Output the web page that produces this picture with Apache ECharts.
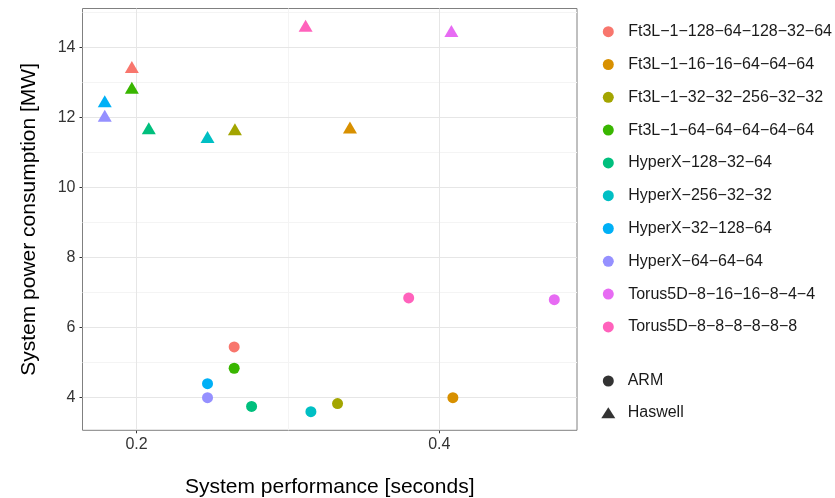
<!DOCTYPE html>
<html>
<head>
<meta charset="utf-8">
<title>System power vs performance</title>
<script src="https://cdn.jsdelivr.net/npm/echarts@6/dist/echarts.min.js"></script>
<style>
  html, body { margin: 0; padding: 0; background: #fff; }
  #chart { width: 835px; height: 498px; }
</style>
</head>
<body>
<div id="chart"></div>
<script>
// Network topologies (one colour each)
const topologies = [
  "Ft3L−1−128−64−128−32−64",
  "Ft3L−1−16−16−64−64−64",
  "Ft3L−1−32−32−256−32−32",
  "Ft3L−1−64−64−64−64−64",
  "HyperX−128−32−64",
  "HyperX−256−32−32",
  "HyperX−32−128−64",
  "HyperX−64−64−64",
  "Torus5D−8−16−16−8−4−4",
  "Torus5D−8−8−8−8−8−8"
];

// Processor types (one shape each)
const processors = ["ARM", "Haswell"];

// ARM nodes: performance [s] and power [MW], in topology order
const armPerf  = [0.2645, 0.409, 0.3328, 0.2645, 0.276, 0.3152, 0.2469, 0.2469, 0.476, 0.3798];
const armPower = [5.44, 3.99, 3.82, 4.83, 3.74, 3.59, 4.39, 3.99, 6.79, 6.84];

// Haswell nodes: performance [s] and power [MW], in topology order
const hswPerf  = [0.1969, 0.341, 0.265, 0.1969, 0.2081, 0.2469, 0.179, 0.179, 0.408, 0.3117];
const hswPower = [13.38, 11.65, 11.60, 12.79, 11.63, 11.38, 12.40, 11.99, 14.41, 14.56];

// Axis ticks and gridlines
const xTicks = [0.2, 0.4];
const xMinor = [0.3];
const yTicks = [4, 6, 8, 10, 12, 14];
const yMinor = [5, 7, 9, 11, 13, 15];

const palette = ["#F8766D", "#D89000", "#A3A500", "#39B600", "#00BF7D",
                 "#00BFC4", "#00B0F6", "#9590FF", "#E76BF3", "#FF62BC"];

const FONT = "Liberation Sans, Arial, Helvetica, sans-serif";
const chart = echarts.init(document.getElementById("chart"), null, { renderer: "canvas" });

const pointSeries = topologies.map((name, i) => ({
  name: name,
  type: "scatter",
  z: 10,
  itemStyle: { color: palette[i], opacity: 1 },
  data: [
    { value: [armPerf[i], armPower[i]], symbol: "circle", symbolSize: 11 },
    { value: [hswPerf[i], hswPower[i]], symbol: "triangle", symbolSize: [14, 12], symbolOffset: [0, -2] }
  ]
}));

// Empty series so the shape legend has entries
const shapeSeries = processors.map(name => ({
  name: name,
  type: "scatter",
  itemStyle: { color: "#000" },
  data: []
}));

const gridLine = (axis, v, color) => ({ [axis]: v, lineStyle: { color: color, width: 1, type: "solid" } });

// Major and minor gridlines, kept underneath the points
const gridSeries = {
  name: "grid",
  type: "scatter",
  z: 1,
  silent: true,
  data: [],
  markLine: {
    z: 1,
    silent: true,
    symbol: "none",
    animation: false,
    label: { show: false },
    emphasis: { disabled: true },
    data: [
      ...yMinor.map(v => gridLine("yAxis", v, "#F4F4F4")),
      ...xMinor.map(v => gridLine("xAxis", v, "#F4F4F4")),
      ...yTicks.map(v => gridLine("yAxis", v, "#E6E6E6")),
      ...xTicks.map(v => gridLine("xAxis", v, "#E6E6E6"))
    ]
  }
};

const legendText = { fontSize: 16, lineHeight: 16, color: "#1a1a1a", fontFamily: FONT };

const option = {
  animation: false,
  backgroundColor: "#fff",
  textStyle: { fontFamily: FONT },
  grid: {
    left: 82.5, right: 258, top: 8.5, bottom: 67.7,
    outerBoundsMode: "none",
    containLabel: false,
    show: true, borderColor: "#808080", borderWidth: 1, backgroundColor: "#fff"
  },
  xAxis: {
    type: "value",
    min: 0.1643, max: 0.491,
    name: "System performance [seconds]",
    nameLocation: "middle",
    nameGap: 46,
    nameTextStyle: { fontSize: 21, color: "#000", fontFamily: FONT },
    axisLine: { show: false },
    splitLine: { show: false },
    axisTick: { show: true, length: 3, lineStyle: { color: "#333" }, customValues: xTicks },
    axisLabel: { fontSize: 16, color: "#333", margin: 6, fontFamily: FONT, customValues: xTicks,
                 formatter: v => v.toFixed(1) }
  },
  yAxis: {
    type: "value",
    min: 3.057, max: 15.11,
    name: "System power consumption [MW]",
    nameLocation: "middle",
    nameGap: 43,
    nameRotate: 90,
    nameTextStyle: { fontSize: 21, color: "#000", fontFamily: FONT },
    axisLine: { show: false },
    splitLine: { show: false },
    axisTick: { show: true, length: 3, lineStyle: { color: "#333" }, customValues: yTicks },
    axisLabel: { fontSize: 16, color: "#333", margin: 7, fontFamily: FONT, customValues: yTicks }
  },
  legend: [
    {
      orient: "vertical",
      left: 602.8, top: 23.7,
      padding: 0,
      itemWidth: 11, itemHeight: 11,
      itemGap: 16.8,
      icon: "circle",
      selectedMode: false,
      textStyle: Object.assign({ padding: [0, 0, 0, 9.4] }, legendText),
      data: topologies
    },
    {
      orient: "vertical",
      left: 601.3, top: 373,
      padding: 0,
      itemWidth: 14, itemHeight: 11,
      itemGap: 15.7,
      selectedMode: false,
      textStyle: Object.assign({ padding: [0, 0, 0, 7.4] }, legendText),
      data: [
        { name: processors[0], icon: "circle" },
        { name: processors[1], icon: "triangle" }
      ]
    }
  ],
  series: [gridSeries, ...pointSeries, ...shapeSeries]
};

chart.setOption(option);
</script>
</body>
</html>
